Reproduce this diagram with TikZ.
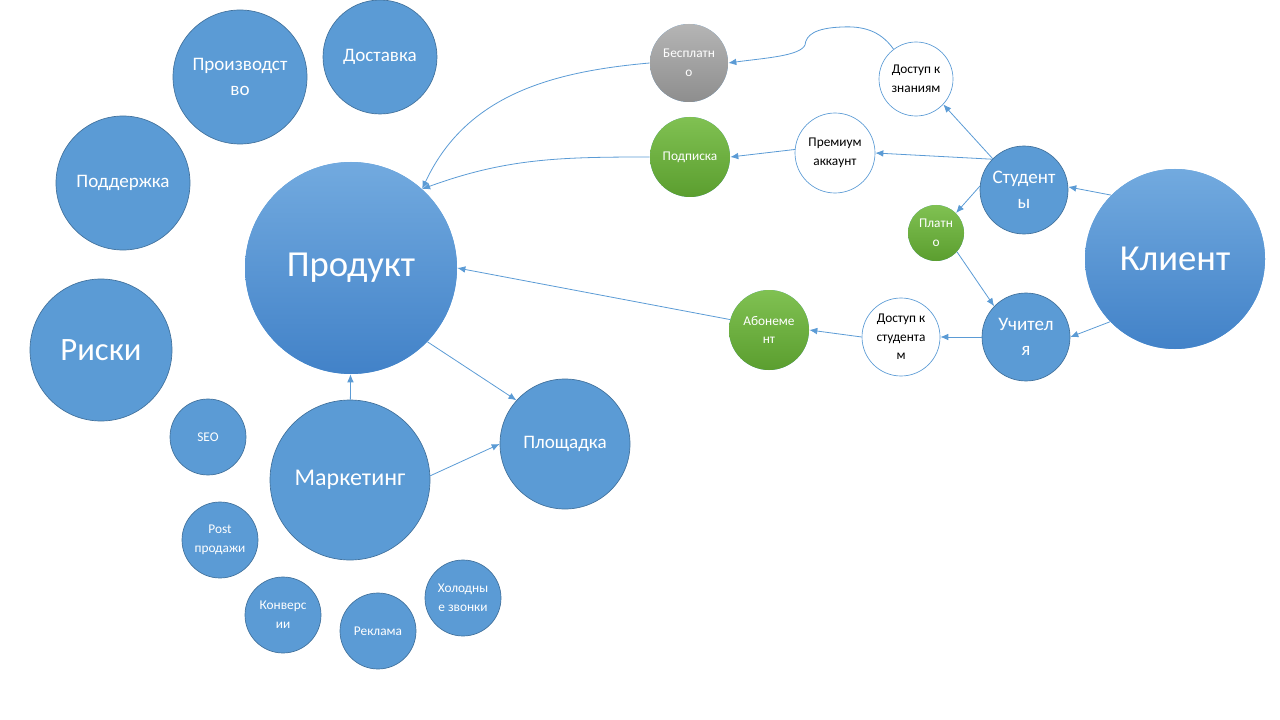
\documentclass[tikz,border=0pt]{standalone}
\usepackage{fontspec}
\setmainfont{Carlito}
\usetikzlibrary{arrows.meta}
\definecolor{bubblue}{HTML}{5B9BD5}
\definecolor{bubline}{HTML}{41719C}
\definecolor{toplight}{HTML}{72AADF}
\definecolor{botdark}{HTML}{4282C8}
\definecolor{greentop}{HTML}{80C152}
\definecolor{greenbot}{HTML}{5B9E2F}
\definecolor{greytop}{HTML}{B5B5B5}
\definecolor{greybot}{HTML}{8E8E8E}
\tikzset{
  bub/.style={circle, draw=bubline, line width=0.5pt, fill=bubblue, text=white,
    inner sep=0pt, align=center, minimum size=#1*1.5pt},
  bigbub/.style={bub=#1, draw=none, top color=toplight, bottom color=botdark},
  greenbub/.style={bub=#1, draw=none, top color=greentop, bottom color=greenbot},
  greybub/.style={bub=#1, draw=none, top color=greytop, bottom color=greybot},
  whitebub/.style={bub=#1, draw=bubblue, fill=white, text=black},
  huge/.style={font=\fontsize{27.5}{32}\selectfont},
  large/.style={font=\fontsize{18}{22}\selectfont},
  mid/.style={font=\fontsize{14.3}{19}\selectfont},
  small/.style={font=\fontsize{10}{14}\selectfont},
  link/.style={draw=bubblue, line width=0.6pt, -{Latex[length=6pt,width=5pt]}}
}
\begin{document}
\begin{tikzpicture}[x=0.75pt,y=-0.75pt]
   \useasboundingbox (0,0) rectangle (1280,720);

   \node[bigbub=106, huge] (prod) at (351,268) {Продукт};
   \node[bub=67, mid] (proizv) at (240,77) {Производст\\во};
   \node[bub=57, mid] (dost) at (380,57) {Доставка};
   \node[bub=67, mid] (podd) at (123,183) {Поддержка};
   \node[bub=71, font=\fontsize{24.5}{29}\selectfont] (riski) at (101,350) {Риски};
   \node[bub=38, small] (seo) at (208,437) {SEO};
   \node[bub=80, large] (mark) at (350,480) {Маркетинг};
   \node[bub=65, mid] (plosh) at (565,444) {Площадка};
   \node[bub=38, small] (post) at (220,540) {Post\\продажи};
   \node[bub=38, small] (konv) at (283,615) {Конверс\\ии};
   \node[bub=38, small] (rekl) at (378,631) {Реклама};
   \node[bub=38, small] (hol) at (463,598) {Холодны\\е звонки};

   \node[greybub=39, small] (besp) at (689,63) {Бесплатн\\о};
   \node[greenbub=40, small] (podp) at (690,157) {Подписка};
   \node[greenbub=40, small] (abon) at (769,330) {Абонеме\\нт};
   \node[whitebub=37, small] (dzn) at (916,79) {Доступ к\\знаниям};
   \node[whitebub=40, small] (prem) at (835,153) {Премиум\\аккаунт};
   \node[bub=44, mid] (stud) at (1024,190) {Студент\\ы};
   \node[greenbub=28, small] (platno) at (936,233) {Платн\\о};
   \node[bub=44, mid] (uchit) at (1026,337) {Учител\\я};
   \node[whitebub=39, small] (dstud) at (901,337) {Доступ к\\студента\\м};
   \node[bigbub=90, huge] (klient) at (1175,259) {Клиент};

   \draw[link] (klient.135) -- (stud.4);
   \draw[link] (klient.224) -- (uchit.0);
   \draw[link] (stud.135) -- (dzn.317);
   \draw[link] (stud.136) -- (prem.0);
   \draw[link] (stud.175) -- (platno.45);
   \draw[link] (platno.-42) -- (uchit.136);
   \draw[link] (uchit.180) -- (dstud.0);
   \draw[link] (dstud.180) -- (abon.0);
   \draw[link] (abon.165) -- (prod.0);
   \draw[link] (prem.175) -- (podp.0);
   \draw[link] (podp.180) to[out=180,in=20] (prod.48);
   \draw[link] (besp.180) to[out=185,in=65] (prod.48);
   \draw[link] (dzn.127) .. controls (880,30) and (862,26) .. (842,27)
      .. controls (815,28) and (806,35) .. (805,45)
      .. controls (800,56) and (765,58) .. (besp.0);
   \draw[link] (mark) -- (prod);
   \draw[link] (mark.3) -- (plosh.180);
   \draw[link] (prod.-44) -- (plosh.138);
\end{tikzpicture}
\end{document}
